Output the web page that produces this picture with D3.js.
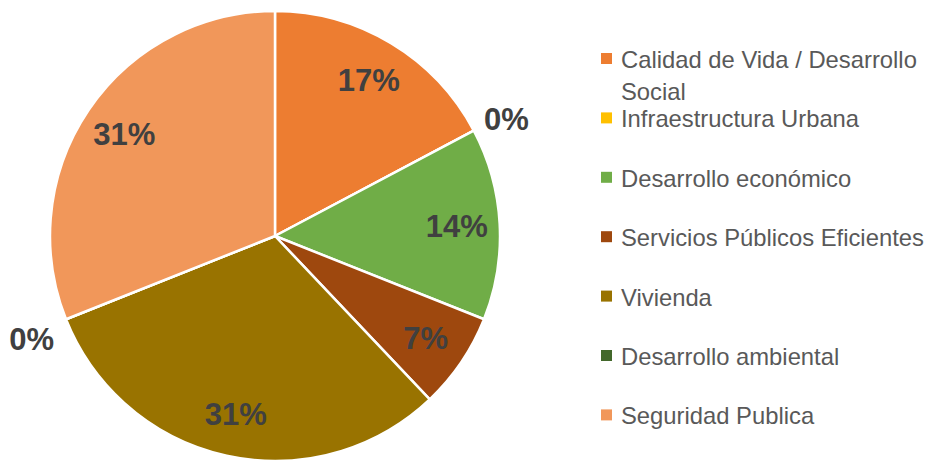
<!DOCTYPE html>
<html>
<head>
<meta charset="utf-8">
<script src="https://cdn.jsdelivr.net/npm/d3@7"></script>
<style>
  body { margin: 0; background: #fff; }
  svg { display: block; font-family: "Liberation Sans", Arial, sans-serif; }
</style>
</head>
<body>
<div id="chart"></div>
<script>
const categories = [
  "Calidad de Vida / Desarrollo Social",
  "Infraestructura Urbana",
  "Desarrollo económico",
  "Servicios Públicos Eficientes",
  "Vivienda",
  "Desarrollo ambiental",
  "Seguridad Publica"
];
const values = [5, 0, 4, 2, 9, 0, 9];
const colors = ["#ED7D31", "#FFC000", "#70AD47", "#9E480E", "#997300", "#43682B", "#F1975A"];

const width = 925, height = 460;
const cx = 275, cy = 236, radius = 225;

const svg = d3.select("#chart")
  .append("svg")
  .attr("width", width)
  .attr("height", height);

const data = categories.map((c, i) => ({ name: c, value: values[i], color: colors[i] }));
const total = d3.sum(values);

const pie = d3.pie()
  .sort(null)
  .value(d => d.value);

const arc = d3.arc()
  .innerRadius(0)
  .outerRadius(radius);

const labelArc = d3.arc()
  .innerRadius(182)
  .outerRadius(182);

const outerArc = d3.arc()
  .innerRadius(262)
  .outerRadius(262);

const g = svg.append("g")
  .attr("transform", `translate(${cx}, ${cy})`);

const arcs = pie(data);

g.selectAll("path")
  .data(arcs)
  .join("path")
  .attr("d", arc)
  .attr("fill", d => d.data.color)
  .attr("stroke", "#fff")
  .attr("stroke-width", 2.5)
  .attr("stroke-linejoin", "round");

// percentage labels (zero slices go outside)
g.selectAll("text.pct")
  .data(arcs)
  .join("text")
  .attr("class", "pct")
  .attr("transform", d => {
    const p = d.data.value === 0 ? outerArc.centroid(d) : labelArc.centroid(d);
    return `translate(${p[0]}, ${p[1] + (d.data.value === 0 ? 6 : 0)})`;
  })
  .attr("text-anchor", "middle")
  .attr("dy", "0.36em")
  .attr("fill", "#404040")
  .style("font-size", "31px")
  .style("font-weight", "bold")
  .text(d => d3.format(".0%")(d.data.value / total));

// legend
const legend = svg.append("g")
  .attr("transform", "translate(601, 59)");

const rowStep = 59.4;

const item = legend.selectAll("g")
  .data(data)
  .join("g")
  .attr("transform", (d, i) => `translate(0, ${i * rowStep})`);

item.append("rect")
  .attr("x", 0)
  .attr("y", -6)
  .attr("width", 11)
  .attr("height", 11)
  .attr("fill", d => d.color);

item.append("text")
  .attr("x", 20)
  .attr("y", 9)
  .attr("fill", "#595959")
  .style("font-size", "23.8px")
  .each(function(d) {
    const t = d3.select(this);
    const lines = d.name === categories[0]
      ? ["Calidad de Vida / Desarrollo", "Social"]
      : [d.name];
    lines.forEach((line, j) => {
      t.append("tspan")
        .attr("x", 20)
        .attr("dy", j === 0 ? 0 : 32)
        .text(line);
    });
  });
</script>
</body>
</html>
